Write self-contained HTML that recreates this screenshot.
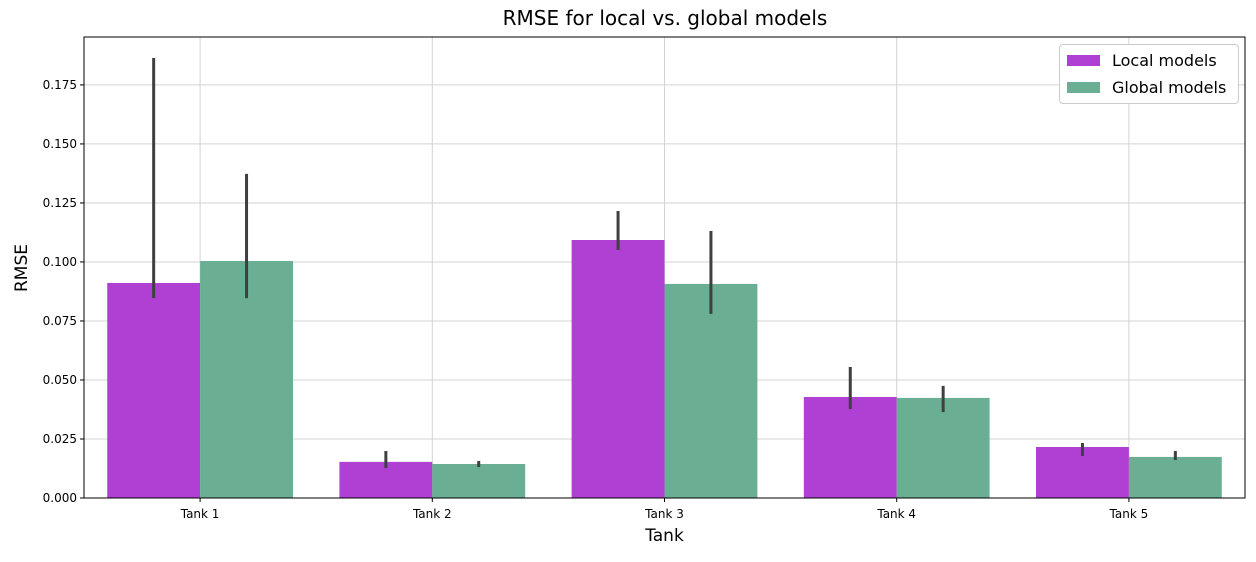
<!DOCTYPE html>
<html><head><meta charset="utf-8"><style>
body{margin:0;background:#fff;font-family:"Liberation Sans","DejaVu Sans",sans-serif;}
svg text{font-family:"DejaVu Sans","Liberation Sans",sans-serif;}
</style></head><body>
<svg id="chart" width="1256" height="557"></svg>
<script>
const categories=["Tank 1","Tank 2","Tank 3","Tank 4","Tank 5"];
const localVals=[0.0911,0.0153,0.1093,0.0428,0.0216];
const localLo=[0.0847,0.0127,0.1051,0.0377,0.0178];
const localHi=[0.1864,0.0199,0.1216,0.0555,0.0233];
const globalVals=[0.1004,0.0144,0.0907,0.0424,0.0174];
const globalLo=[0.0847,0.0131,0.0780,0.0364,0.0161];
const globalHi=[0.1373,0.0157,0.1131,0.0475,0.0199];
const yTicks=[0,0.025,0.05,0.075,0.1,0.125,0.15,0.175];
const yTickLabels=["0.000","0.025","0.050","0.075","0.100","0.125","0.150","0.175"];

const svg=document.getElementById('chart');
const NS='http://www.w3.org/2000/svg';
const L=84,R=1245,T=37,B=498,yMax=0.1953;
const x=i=>L+(i+0.5)*(R-L)/categories.length;
const y=v=>B-v/yMax*(B-T);
const bw=(R-L)/categories.length*0.4;
function mk(tag,attrs,parent){const e=document.createElementNS(NS,tag);for(const k in attrs)e.setAttribute(k,attrs[k]);(parent||svg).appendChild(e);return e;}

yTicks.forEach((v,i)=>{
 const g=mk('line',{x1:L,x2:R,y1:y(v),y2:y(v),stroke:'#d3d3d3','stroke-width':1});
 
 
 mk('line',{x1:L-4,x2:L,y1:y(v),y2:y(v),stroke:'#000'});
 const t=mk('text',{x:L-7,y:y(v)+4,'text-anchor':'end','font-size':12});
 t.textContent=yTickLabels[i];
 
 
});
categories.forEach((c,i)=>{
 const g=mk('line',{x1:x(i),x2:x(i),y1:T,y2:B,stroke:'#d3d3d3','stroke-width':1});
 
 
});
categories.forEach((c,i)=>{
 const xl=x(i)-bw;
 const b1=mk('rect',{x:xl,y:y(localVals[i]),width:bw,height:B-y(localVals[i]),fill:'#b040d4'});
 
 
 const b2=mk('rect',{x:x(i),y:y(globalVals[i]),width:bw,height:B-y(globalVals[i]),fill:'#6aae94'});
 
 
 const e1=mk('line',{x1:xl+bw/2,x2:xl+bw/2,y1:y(localLo[i]),y2:y(localHi[i]),stroke:'#3f3f3f','stroke-width':3});
 
 
 const e2=mk('line',{x1:x(i)+bw/2,x2:x(i)+bw/2,y1:y(globalLo[i]),y2:y(globalHi[i]),stroke:'#3f3f3f','stroke-width':3});
 
 
 mk('line',{x1:x(i),x2:x(i),y1:B,y2:B+4,stroke:'#000'});
 const t=mk('text',{x:x(i),y:B+20,'text-anchor':'middle','font-size':12});
 t.textContent=c;
 
 
});
const fr=mk('rect',{x:L,y:T,width:R-L,height:B-T,fill:'none',stroke:'#000','stroke-width':1});


</script>
<div style="position:absolute;left:0;width:1330px;top:6px;text-align:center;font:20px 'DejaVu Sans',sans-serif;">RMSE for local vs. global models</div>
<div style="position:absolute;left:84px;width:1161px;top:526px;text-align:center;font:17px 'DejaVu Sans',sans-serif;">Tank</div>
<div style="position:absolute;left:-2px;top:258px;transform:rotate(-90deg);font:17px 'DejaVu Sans',sans-serif;">RMSE</div>
<div style="position:absolute;left:1059px;top:44px;width:178px;height:58px;border:1px solid #ccc;border-radius:4px;background:#fff;font:16px 'DejaVu Sans',sans-serif;">
 <div style="position:absolute;left:7px;top:6px;white-space:nowrap;"><span style="display:inline-block;width:33px;height:11px;background:#b040d4;margin-right:12px;"></span>Local models</div>
 <div style="position:absolute;left:7px;top:33px;white-space:nowrap;"><span style="display:inline-block;width:33px;height:11px;background:#6aae94;margin-right:12px;"></span>Global models</div>
</div>
</body></html>
